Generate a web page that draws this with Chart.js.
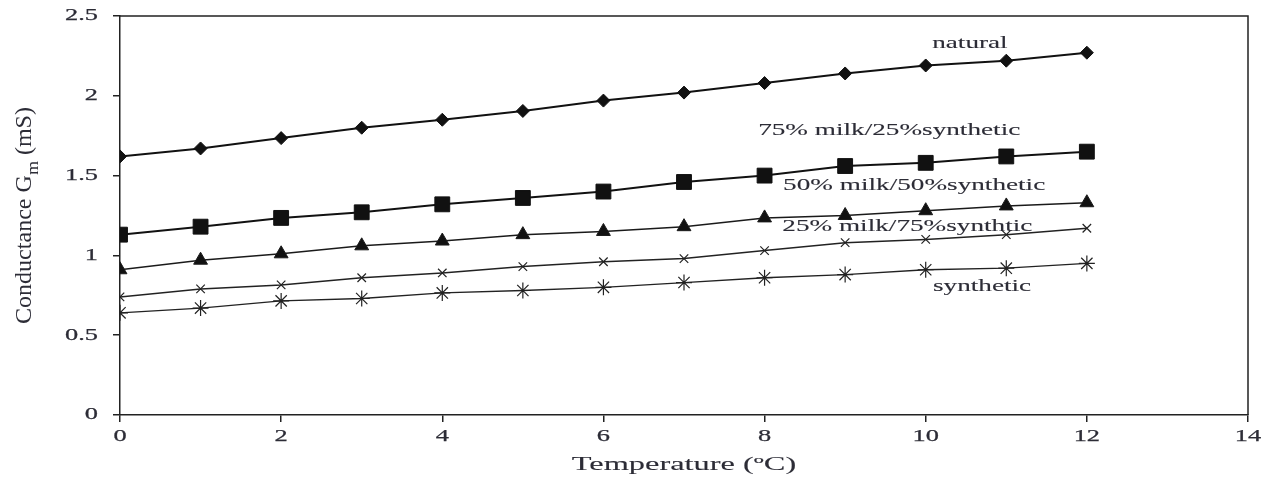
<!DOCTYPE html>
<html>
<head>
<meta charset="utf-8">
<script src="https://cdn.jsdelivr.net/npm/chart.js@4.4.0/dist/chart.umd.min.js"></script>
<style>
  html, body { margin: 0; padding: 0; background: #fff; }
  #wrap { width: 1269px; height: 479px; }
</style>
</head>
<body>
<div id="wrap"><canvas id="myChart" width="1269" height="479"></canvas></div>
<script>
// data
var temps = [0, 1, 2, 3, 4, 5, 6, 7, 8, 9, 10, 11, 12];
var natural = [1.62, 1.67, 1.735, 1.80, 1.85, 1.905, 1.97, 2.02, 2.08, 2.14, 2.19, 2.22, 2.27];
var milk75 = [1.13, 1.18, 1.235, 1.27, 1.32, 1.36, 1.40, 1.46, 1.50, 1.56, 1.58, 1.62, 1.65];
var milk50 = [0.91, 0.97, 1.01, 1.06, 1.09, 1.13, 1.15, 1.18, 1.235, 1.25, 1.28, 1.31, 1.33];
var milk25 = [0.74, 0.79, 0.815, 0.86, 0.89, 0.93, 0.96, 0.98, 1.03, 1.08, 1.10, 1.13, 1.17];
var synthetic = [0.64, 0.67, 0.715, 0.73, 0.765, 0.78, 0.80, 0.83, 0.86, 0.88, 0.91, 0.92, 0.95];

var seriesNames = ["natural", "75% milk/25%synthetic", "50% milk/50%synthetic", "25% milk/75%synthtic", "synthetic"];
// where each series name sits (left edge x, middle y) in data units
var labelX = [10.08, 7.92, 8.23, 8.22, 10.09];
var labelY = [2.33, 1.78, 1.435, 1.184, 0.808];

var xTicks = [0, 2, 4, 6, 8, 10, 12, 14];
var yTicks = [0, 0.5, 1, 1.5, 2, 2.5];
var xTitle = "Temperature (\u00baC)";

function pts(vals) {
    return vals.map(function (v, i) { return { x: temps[i], y: v }; });
}

var textColor = '#2c2c36';
var serif = "'Liberation Serif', 'Times New Roman', serif";
var stretch = 1.6;

// the scanned figure is wide-stretched, so text is drawn with a horizontal scale
function wideText(ctx, txt, x, y, align, sx, lw) {
    ctx.save();
    ctx.translate(x, y);
    ctx.scale(sx || stretch, 1);
    ctx.textAlign = align;
    ctx.fillText(txt, 0, 0);
    if (lw) {
        ctx.lineWidth = lw;
        ctx.strokeText(txt, 0, 0);
    }
    ctx.restore();
}

// tick labels, series names, axis titles and the top/right frame
var extras = {
    id: 'extras',
    afterDraw: function (chart) {
        var ctx = chart.ctx;
        var a = chart.chartArea;
        var sx = chart.scales.x, sy = chart.scales.y;

        ctx.save();
        ctx.strokeStyle = '#222';
        ctx.lineWidth = 1.5;
        ctx.beginPath();
        ctx.moveTo(a.left, a.top);
        ctx.lineTo(a.right, a.top);
        ctx.lineTo(a.right, a.bottom);
        ctx.stroke();
        ctx.restore();

        ctx.save();
        ctx.fillStyle = textColor;
        ctx.strokeStyle = textColor;
        ctx.textBaseline = 'middle';

        // tick labels
        ctx.font = '16.5px ' + serif;
        xTicks.forEach(function (t) {
            wideText(ctx, String(t), sx.getPixelForValue(t), a.bottom + 22, 'center', stretch, 0.25);
        });
        yTicks.forEach(function (t) {
            wideText(ctx, String(t), a.left - 22, sy.getPixelForValue(t), 'right', stretch, 0.25);
        });

        // series names
        ctx.font = '17px ' + serif;
        for (var i = 0; i < seriesNames.length; i++) {
            wideText(ctx, seriesNames[i], sx.getPixelForValue(labelX[i]), sy.getPixelForValue(labelY[i]), 'left', stretch, 0.1);
        }

        // x title
        ctx.font = '18.5px ' + serif;
        wideText(ctx, xTitle, (a.left + a.right) / 2, 465, 'center', 1.75, 0.1);

        // y title with subscript
        var p1 = 'Conductance G', p3 = ' (mS)';
        ctx.font = '16px ' + serif;
        var w1 = ctx.measureText(p1).width, w3 = ctx.measureText(p3).width;
        ctx.font = '12px ' + serif;
        var w2 = ctx.measureText('m').width;
        var total = w1 + w2 + w3;
        var k = 217 / total;
        ctx.save();
        ctx.translate(25, (a.top + a.bottom) / 2);
        ctx.rotate(-Math.PI / 2);
        ctx.scale(k, 1.4);
        ctx.textAlign = 'left';
        ctx.font = '16px ' + serif;
        ctx.fillText(p1, -total / 2, 0);
        ctx.font = '12px ' + serif;
        ctx.fillText('m', -total / 2 + w1, 6);
        ctx.font = '16px ' + serif;
        ctx.fillText(p3, -total / 2 + w1 + w2, 0);
        ctx.restore();

        ctx.restore();
    }
};

var ctx = document.getElementById('myChart');
var myChart = new Chart(ctx, {
    type: 'line',
    data: {
        datasets: [{
            label: seriesNames[0],
            data: pts(natural),
            borderColor: '#111',
            backgroundColor: '#111',
            borderWidth: 2,
            pointStyle: 'rectRot',
            pointRadius: 6.5,
            pointBorderWidth: 1
        },
        {
            label: seriesNames[1],
            data: pts(milk75),
            borderColor: '#111',
            backgroundColor: '#111',
            borderWidth: 2,
            pointStyle: 'rect',
            pointRadius: 10.5,
            pointBorderWidth: 1
        },
        {
            label: seriesNames[2],
            data: pts(milk50),
            borderColor: '#1a1a1a',
            backgroundColor: '#111',
            borderWidth: 1.5,
            pointStyle: 'triangle',
            pointRadius: 8,
            pointBorderWidth: 1
        },
        {
            label: seriesNames[3],
            data: pts(milk25),
            borderColor: '#222',
            backgroundColor: '#222',
            borderWidth: 1.5,
            pointStyle: 'crossRot',
            pointRadius: 6,
            pointBorderWidth: 1.2
        },
        {
            label: seriesNames[4],
            data: pts(synthetic),
            borderColor: '#222',
            backgroundColor: '#222',
            borderWidth: 1.3,
            pointStyle: 'star',
            pointRadius: 8,
            pointBorderWidth: 1.2
        }
        ]
    },
    options: {
        responsive: false,
        animation: false,
        layout: {
            padding: { top: 16, right: 21, left: 0, bottom: 0 }
        },
        plugins: {
            legend: { display: false },
            tooltip: { enabled: false }
        },
        scales: {
            x: {
                type: 'linear',
                min: 0,
                max: 14,
                ticks: { stepSize: 2, display: false },
                grid: { drawOnChartArea: false, drawTicks: true, tickLength: 7, color: '#222', lineWidth: 1.5 },
                border: { display: true, color: '#222', width: 1.5 },
                afterFit: function (scale) { scale.height = 64; }
            },
            y: {
                min: 0,
                max: 2.5,
                ticks: { stepSize: 0.5, display: false },
                grid: { drawOnChartArea: false, drawTicks: true, tickLength: 7, color: '#222', lineWidth: 1.5 },
                border: { display: true, color: '#222', width: 1.5 },
                afterFit: function (scale) { scale.width = 120; }
            }
        }
    },
    plugins: [extras]
});
</script>
</body>
</html>
